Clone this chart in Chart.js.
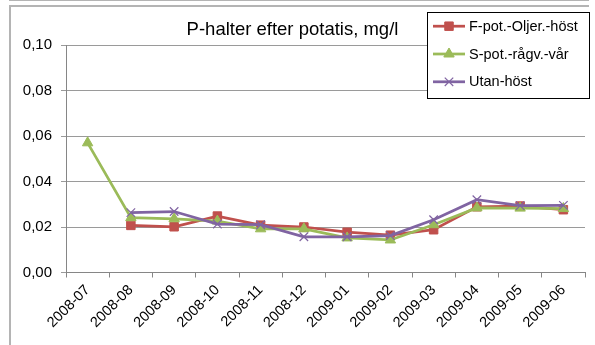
<!DOCTYPE html>
<html>
<head>
<meta charset="utf-8">
<script src="https://cdn.jsdelivr.net/npm/chart.js@4/dist/chart.umd.min.js"></script>
<style>
  html, body { margin: 0; padding: 0; background: #fff; }
  #wrap { position: relative; width: 595px; height: 345px; overflow: hidden; }
  #c { position: absolute; left: 0; top: 0; }
  .fr { position: absolute; background: #b4b4b4; pointer-events: none; }
</style>
</head>
<body>
<div id="wrap">
  <div class="fr" style="left:9px; top:0px; width:580px; height:1px;"></div>
  <div class="fr" style="left:9px; top:5px; width:580px; height:2px;"></div>
  <div class="fr" style="left:9px; top:5px; width:2px; height:340px;"></div>
  <canvas id="c" width="595" height="345"></canvas>
</div>
<script>
const categories = ['2008-07','2008-08','2008-09','2008-10','2008-11','2008-12','2009-01','2009-02','2009-03','2009-04','2009-05','2009-06'];
const fPotOljerHost = [null, 0.0207, 0.0201, 0.0248, 0.0208, 0.0200, 0.0177, 0.0164, 0.0188, 0.0289, 0.0292, 0.0276];
const sPotRagvVar   = [0.0570, 0.0241, 0.0236, 0.0226, 0.0192, 0.0192, 0.0152, 0.0143, 0.0210, 0.0284, 0.0283, 0.0281];
const utanHost      = [null, 0.0263, 0.0268, 0.0213, 0.0210, 0.0157, 0.0157, 0.0162, 0.0232, 0.0320, 0.0294, 0.0295];
const seriesNames = ['F-pot.-Oljer.-höst', 'S-pot.-rågv.-vår', 'Utan-höst'];
const yTickValues = [0, 0.02, 0.04, 0.06, 0.08, 0.10];
const titleText = 'P-halter efter potatis, mg/l';

const FONT = '"Liberation Sans", Arial, sans-serif';

const boxLegend = {
  id: 'boxLegend',
  afterDraw(chart) {
    const ctx = chart.ctx;
    const x0 = 427.5, y0 = 12.5, w = 162, h = 86;
    ctx.save();
    ctx.fillStyle = '#fff';
    ctx.fillRect(x0, y0, w, h);
    ctx.strokeStyle = '#000';
    ctx.lineWidth = 1;
    ctx.strokeRect(x0, y0, w, h);
    const rows = [26.2, 54, 81.8];
    chart.data.datasets.forEach((ds, i) => {
      const y = rows[i];
      ctx.strokeStyle = ds.borderColor;
      ctx.lineWidth = 2.75;
      ctx.beginPath();
      ctx.moveTo(433, y);
      ctx.lineTo(465, y);
      ctx.stroke();
      ctx.fillStyle = ds.pointBackgroundColor;
      ctx.strokeStyle = ds.pointBorderColor;
      ctx.lineWidth = ds.pointBorderWidth;
      Chart.helpers.drawPoint(ctx, {pointStyle: ds.pointStyle, radius: ds.pointRadius, borderWidth: ds.pointBorderWidth, rotation: 0}, 449, y);
      ctx.fillStyle = '#000';
      ctx.font = '14.5px ' + FONT;
      ctx.textBaseline = 'middle';
      ctx.textAlign = 'left';
      ctx.fillText(seriesNames[i], 469, y + 0.5);
    });
    ctx.restore();
  }
};

new Chart(document.getElementById('c'), {
  type: 'line',
  data: {
    labels: categories,
    datasets: [
      { label: seriesNames[0], data: fPotOljerHost, borderColor: '#C0504D', backgroundColor: '#C0504D',
        pointBackgroundColor: '#C0504D', pointBorderColor: '#C0504D', pointStyle: 'rect', pointRadius: 6, pointBorderWidth: 1,
        borderWidth: 2.75, order: 3 },
      { label: seriesNames[1], data: sPotRagvVar, borderColor: '#9BBB59', backgroundColor: '#9BBB59',
        pointBackgroundColor: '#9BBB59', pointBorderColor: '#9BBB59', pointStyle: 'triangle', pointRadius: 6, pointBorderWidth: 1,
        borderWidth: 2.75, order: 2 },
      { label: seriesNames[2], data: utanHost, borderColor: '#8064A2', backgroundColor: '#8064A2',
        pointBackgroundColor: '#8064A2', pointBorderColor: '#8064A2', pointStyle: 'crossRot', pointRadius: 6, pointBorderWidth: 1.2,
        borderWidth: 2.75, order: 1 }
    ]
  },
  options: {
    responsive: false,
    animation: false,
    devicePixelRatio: 1,
    spanGaps: false,
    layout: { padding: { left: 0, right: 10, top: 0, bottom: 0 } },
    plugins: {
      legend: { display: false },
      tooltip: { enabled: false },
      title: {
        display: true,
        text: titleText,
        color: '#000',
        font: { family: FONT, size: 18.5, weight: 'normal', lineHeight: 1.2 },
        padding: { top: 18.4, bottom: 4.4 }
      }
    },
    scales: {
      x: {
        type: 'category',
        offset: true,
        grid: { display: true, drawOnChartArea: false, offset: true, tickLength: 5, color: '#868686', lineWidth: 1 },
        border: { display: true, color: '#868686', width: 1 },
        ticks: { color: '#000', font: { family: FONT, size: 14.5 }, minRotation: 45, maxRotation: 45, padding: 4, autoSkip: false },
        afterFit(scale) { scale.height = 72.5; }
      },
      y: {
        min: 0,
        max: 0.1,
        afterBuildTicks(scale) { scale.ticks = yTickValues.map(v => ({ value: v })); },
        grid: { color: '#9a9a9a', lineWidth: 1, tickLength: 5 },
        border: { display: true, color: '#868686', width: 1 },
        ticks: { color: '#000', font: { family: FONT, size: 15 }, padding: 9,
          callback: (v) => Number(v).toFixed(2).replace('.', ',') },
        afterFit(scale) { scale.width = 66; }
      }
    }
  },
  plugins: [boxLegend]
});
</script>
</body>
</html>
